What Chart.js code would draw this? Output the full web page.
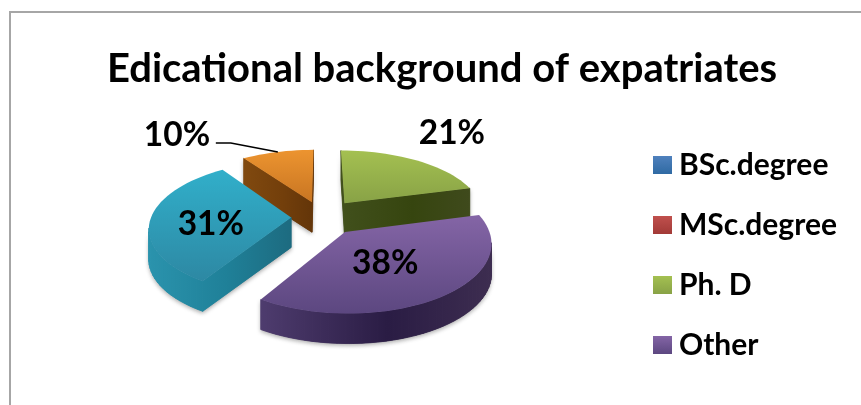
<!DOCTYPE html>
<html>
<head>
<meta charset="utf-8">
<script src="https://cdn.jsdelivr.net/npm/chart.js@4"></script>
<style>
    html, body { margin: 0; padding: 0; background: #fff; overflow: hidden; }
    #frame {
        position: absolute; left: 9px; top: 11px; width: 880px; height: 420px;
        border-top: 2px solid #a6a6a6; border-left: 2px solid #a6a6a6;
    }
    #chart { display: block; }
</style>
</head>
<body>
<div id="frame"><canvas id="chart" width="862" height="392"></canvas></div>
<script>
const chartTitle = 'Edicational background of expatriates';
const categories = ['BSc.degree', 'MSc.degree', 'Ph. D', 'Other', '', ''];
const shares = [0, 0, 21, 38, 31, 10];

// màu mặt trên (sáng, tối) và mặt bên (trái, giữa, phải)
const topLight = ['#4f81bd', '#c0504d', '#a4c051', '#8465a6', '#31afca', '#ec9430'];
const topDark = ['#2f6aa3', '#a23a37', '#88a246', '#5c4780', '#2d88a3', '#c87522'];
const sideLeft = ['#2f6aa3', '#a23a37', '#41501c', '#4e3c6e', '#2a93ad', '#80490f'];
const sideMid = ['#2f6aa3', '#a23a37', '#36450f', '#2a1c44', '#1f8098', '#733f0b'];
const sideRight = ['#2f6aa3', '#a23a37', '#3f4a1c', '#3d2d50', '#1d6b80', '#633509'];
const sliceOffsets = [0, 0, 27, 27, 22, 24];

// vị trí nhãn: hệ số bán kính và độ lệch thêm
const labelRadial = [0, 0, 1.4, 0.55, 0.55, 1.3];
const labelNudgeX = [0, 0, 15, -11, -3, -93];
const labelNudgeY = [0, 0, -13, -3, 6, -5];

// tham số phép chiếu phối cảnh của bánh 3D
const pieWidth = 140, pieHeight = 67, pieDepth = 30, perspective = 0.15;
const pieShiftX = -12, pieShiftY = -37;
const legendDrop = 46;

function project(arc, ux, uz) {
    const s = 1 + perspective * uz;
    return {
        x: arc.x + pieShiftX + ux * pieWidth * s,
        y: arc.y + pieShiftY + uz * pieHeight * s
    };
}

// Đường viền mặt trên của một miếng, bắt đầu từ tâm miếng
function sliceOutline(arc, offset) {
    const mid = (arc.startAngle + arc.endAngle) / 2;
    const e = offset / arc.outerRadius;
    const ox = Math.cos(mid) * e, oz = Math.sin(mid) * e;
    const pts = [project(arc, ox, oz)];
    const steps = Math.ceil((arc.endAngle - arc.startAngle) / 0.05);
    for (let i = 0; i <= steps; i++) {
        const a = arc.startAngle + (arc.endAngle - arc.startAngle) * i / steps;
        pts.push(project(arc, ox + Math.cos(a), oz + Math.sin(a)));
    }
    return pts;
}

function tracePolygon(ctx, pts) {
    ctx.beginPath();
    pts.forEach((p, i) => i ? ctx.lineTo(p.x, p.y) : ctx.moveTo(p.x, p.y));
    ctx.closePath();
}

const pie3d = {
    id: 'pie3d',
    // hạ chú giải xuống ngang phần dưới tiêu đề
    afterLayout(chart) {
        chart.legend.top += legendDrop;
        chart.legend.bottom += legendDrop;
    },
    // vẽ lại các miếng theo hình khối thay cho hình tròn phẳng
    beforeDatasetsDraw(chart) {
        const ctx = chart.ctx;
        const arcs = chart.getDatasetMeta(0).data;
        const order = arcs.map((a, i) => i)
            .filter(i => shares[i] > 0)
            .sort((i, j) => Math.sin((arcs[i].startAngle + arcs[i].endAngle) / 2)
                - Math.sin((arcs[j].startAngle + arcs[j].endAngle) / 2));

        order.forEach(i => {
            const arc = arcs[i];
            const pts = sliceOutline(arc, sliceOffsets[i]);
            const xs = pts.map(p => p.x), ys = pts.map(p => p.y);
            const left = Math.min(...xs), right = Math.max(...xs);
            const top = Math.min(...ys), bottom = Math.max(...ys);

            const side = ctx.createLinearGradient(left, 0, right, 0);
            side.addColorStop(0, sideLeft[i]);
            side.addColorStop(0.55, sideMid[i]);
            side.addColorStop(1, sideRight[i]);

            // bóng mờ dưới khối rồi đến các mặt bên nhìn thấy được
            ctx.save();
            ctx.shadowColor = 'rgba(0,0,0,0.35)';
            ctx.shadowBlur = 4;
            ctx.shadowOffsetY = 2;
            ctx.fillStyle = side;
            pts.forEach((p, k) => {
                const q = pts[(k + 1) % pts.length];
                if (q.x >= p.x) return;
                tracePolygon(ctx, [p, q, { x: q.x, y: q.y + pieDepth }, { x: p.x, y: p.y + pieDepth }]);
                ctx.fill();
            });
            ctx.restore();
            ctx.fillStyle = side;
            ctx.strokeStyle = side;
            ctx.lineWidth = 0.8;
            pts.forEach((p, k) => {
                const q = pts[(k + 1) % pts.length];
                if (q.x >= p.x) return;
                tracePolygon(ctx, [p, q, { x: q.x, y: q.y + pieDepth }, { x: p.x, y: p.y + pieDepth }]);
                ctx.fill();
                ctx.stroke();
            });

            const face = ctx.createLinearGradient(0, top, 0, bottom);
            face.addColorStop(0, topLight[i]);
            face.addColorStop(1, topDark[i]);
            tracePolygon(ctx, pts);
            ctx.fillStyle = face;
            ctx.fill();
        });

        // nhãn phần trăm và đường dẫn của miếng nhỏ nhất
        ctx.fillStyle = '#000';
        ctx.font = 'bold 33.5px Lato';
        ctx.textAlign = 'center';
        ctx.textBaseline = 'middle';
        order.forEach(i => {
            const arc = arcs[i];
            const mid = (arc.startAngle + arc.endAngle) / 2;
            const e = sliceOffsets[i] / arc.outerRadius + labelRadial[i];
            const p = project(arc, Math.cos(mid) * e, Math.sin(mid) * e);
            ctx.fillText(shares[i] + '%', p.x + labelNudgeX[i], p.y + labelNudgeY[i]);
        });

        const smallest = arcs[5];
        const midSmall = (smallest.startAngle + smallest.endAngle) / 2;
        const eSmall = sliceOffsets[5] / smallest.outerRadius + 1;
        const rim = project(smallest, Math.cos(midSmall) * eSmall, Math.sin(midSmall) * eSmall);
        ctx.strokeStyle = '#000';
        ctx.lineWidth = 1.5;
        ctx.beginPath();
        ctx.moveTo(rim.x, rim.y);
        ctx.lineTo(rim.x - 47, rim.y - 9);
        ctx.lineTo(rim.x - 62, rim.y - 9);
        ctx.stroke();
        return false;
    }
};

// ô màu chú giải có chuyển sắc nhẹ
function legendSwatch(i) {
    const c = document.createElement('canvas');
    c.width = 19;
    c.height = 18;
    const g = c.getContext('2d');
    const grad = g.createLinearGradient(0, 0, 0, 18);
    grad.addColorStop(0, topLight[i]);
    grad.addColorStop(1, topDark[i]);
    g.fillStyle = grad;
    g.fillRect(0, 0, 19, 18);
    return c;
}

new Chart(document.getElementById('chart'), {
    type: 'pie',
    data: {
        labels: categories,
        datasets: [{
            data: shares,
            backgroundColor: topLight,
            offset: sliceOffsets,
            radius: 100,
            borderWidth: 0
        }]
    },
    options: {
        responsive: false,
        animation: false,
        layout: { padding: { left: 26, right: 26 } },
        plugins: {
            tooltip: { enabled: false },
            title: {
                display: true,
                text: chartTitle,
                color: '#000',
                font: { family: 'Lato', size: 40, weight: 'bold' },
                padding: { top: 32, bottom: 10 }
            },
            legend: {
                position: 'right',
                labels: {
                    color: '#000',
                    font: { family: 'Lato', size: 30, weight: 'bold' },
                    padding: 30,
                    usePointStyle: true,
                    pointStyleWidth: 3,
                    boxHeight: 18,
                    generateLabels() {
                        return categories.map((text, i) => ({
                            text, index: i, pointStyle: legendSwatch(i), fontColor: '#000',
                            lineWidth: 0, hidden: false
                        })).filter(item => item.text);
                    }
                }
            }
        }
    },
    plugins: [pie3d]
});
</script>
</body>
</html>
